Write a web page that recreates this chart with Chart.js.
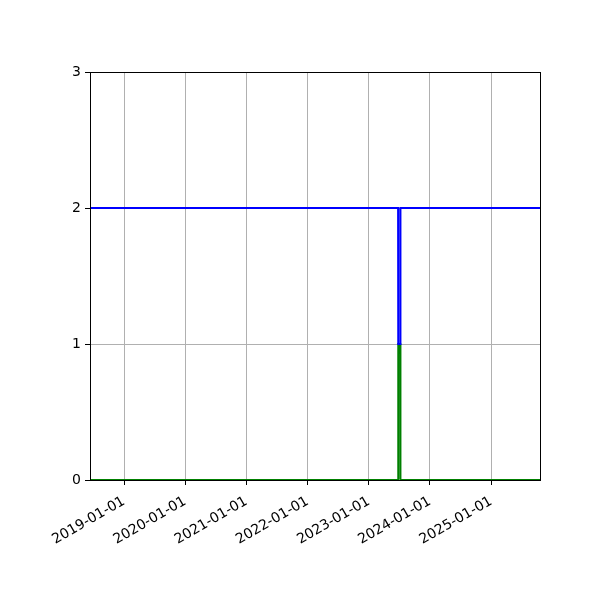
<!DOCTYPE html>
<html>
<head>
<meta charset="utf-8">
<script src="https://cdn.jsdelivr.net/npm/chart.js@4/dist/chart.umd.min.js"></script>
<style>
html,body{margin:0;padding:0;background:#fff;}
#wrap{width:600px;height:600px;}
</style>
</head>
<body>
<div id="wrap"><canvas id="c" width="600" height="600"></canvas></div>
<script>
// Data
const dates = ["2018-06-12", "2023-06-25", "2023-06-26", "2023-07-08", "2023-07-09", "2025-10-19"];
const blueValues = [2, 2, 1, 1, 2, 2];
const greenValues = [0, 0, 1, 1, 0, 0];
const tickLabels = ["2019-01-01", "2020-01-01", "2021-01-01", "2022-01-01", "2023-01-01", "2024-01-01", "2025-01-01"];
const xMinDate = "2018-06-12";
const xMaxDate = "2025-10-19";
const yTicks = [0, 1, 2, 3];

const toMs = s => Date.parse(s + "T00:00:00Z");
const fmt = ms => { const d = new Date(ms); return d.toISOString().slice(0, 10); };
const mk = vals => dates.map((d, i) => ({x: toMs(d), y: vals[i]}));

const boxPlugin = {
  id: 'box',
  afterDraw(chart) {
    const a = chart.chartArea, ctx = chart.ctx;
    ctx.save();
    ctx.strokeStyle = '#000';
    ctx.lineWidth = 1;
    ctx.strokeRect(Math.round(a.left) + 0.5, Math.round(a.top) + 0.5, Math.round(a.right - a.left), Math.round(a.bottom - a.top));
    ctx.restore();
  }
};

new Chart(document.getElementById('c'), {
  type: 'line',
  data: {
    datasets: [
      {label: 'blue', data: mk(blueValues), borderColor: '#0000ff', borderWidth: 2, pointRadius: 0, fill: false, tension: 0},
      {label: 'green', data: mk(greenValues), borderColor: '#008000', borderWidth: 2, pointRadius: 0, fill: false, tension: 0}
    ]
  },
  options: {
    responsive: false,
    animation: false,
    devicePixelRatio: 1,
    layout: {padding: {top: 72, right: 60, left: 0, bottom: 0}},
    plugins: {legend: {display: false}, tooltip: {enabled: false}},
    scales: {
      x: {
        type: 'linear',
        min: toMs(xMinDate),
        max: toMs(xMaxDate),
        afterBuildTicks(scale) { scale.ticks = tickLabels.map(t => ({value: toMs(t)})); },
        afterFit(scale) { scale.height = 120; },
        grid: {color: '#b0b0b0', lineWidth: 1, tickColor: '#000', tickLength: 5, drawOnChartArea: true},
        border: {display: true, color: '#000', width: 1},
        ticks: {
          callback: v => fmt(v),
          maxRotation: 30, minRotation: 30,
          autoSkip: false,
          color: '#000',
          padding: 8,
          font: {family: 'DejaVu Sans', size: 14}
        }
      },
      y: {
        type: 'linear',
        min: 0, max: 3,
        afterBuildTicks(scale) { scale.ticks = yTicks.map(v => ({value: v})); },
        afterFit(scale) { scale.width = 90; },
        grid: {color: '#b0b0b0', lineWidth: 1, tickColor: '#000', tickLength: 5},
        border: {display: true, color: '#000', width: 1},
        ticks: {
          callback: v => String(v),
          color: '#000',
          padding: 4,
          font: {family: 'DejaVu Sans', size: 14}
        }
      }
    }
  },
  plugins: [boxPlugin]
});
</script>
</body>
</html>
